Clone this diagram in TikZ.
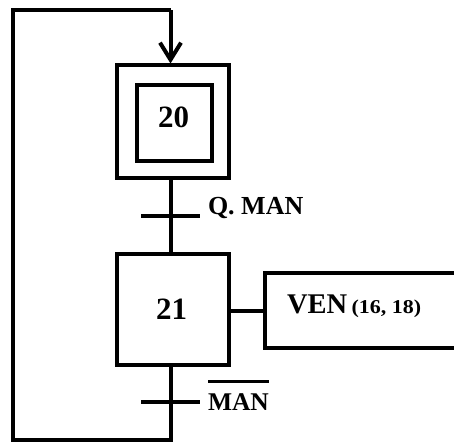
\documentclass[tikz,border=0pt]{standalone}
\usepackage{fontspec}
\setmainfont{Liberation Serif}
\usetikzlibrary{arrows.meta,calc}
\begin{document}
\begin{tikzpicture}[x=1pt,y=1pt,line width=4pt,
  stepbox/.style={draw,inner sep=0pt,outer sep=0pt,minimum width=112.5pt,minimum height=#1},
  lbl/.style={inner sep=0pt,outer sep=0pt,font=\bfseries\fontsize{#1}{#1}\selectfont},
  bar/.style={line width=4pt}]
\useasboundingbox (0,0) rectangle (454,441);
\clip (0,0) rectangle (454,441);
% steps
\node[stepbox=112.8pt] (s20) at (172.75,319.1) {};
\node[draw,inner sep=0pt,outer sep=0pt,minimum width=74.7pt,minimum height=76pt] (s20i) at (174.3,317.7) {};
\node[stepbox=111.3pt] (s21) at (172.75,131.65) {};
\node[draw,inner sep=0pt,outer sep=0pt,minimum width=210pt,minimum height=74.5pt] (act) at (369.5,130.25) {};
% labels
\node[lbl=31,anchor=base] (l20) at (173.5,313.7) {20};
\node[lbl=31,anchor=base] (l21) at (171.5,121.7) {21};
\node[lbl=26,anchor=base west] (q) at (208,226) {Q. MAN};
\node[lbl=28.5,anchor=base west] (ven) at (287,127.5) {VEN\hspace{4.5pt}{\fontsize{19.6}{20}\selectfont\scalebox{1.12}[1]{(16, 18)}}};
\node[lbl=25.5,anchor=base west] (man) at (208,31) {MAN};
\draw[line width=3pt] ($(man.base west)+(0,29)$) -- ($(man.base east)+(0,29)$);
% loop coordinates
\coordinate (tl) at (13,430.7);
\coordinate (tr) at (170.5,430.7);
\coordinate (bl) at (13,1.5);
\coordinate (br) at (170.5,1.5);
\coordinate (t1) at (170.5,225);
\coordinate (t2) at (170.5,39.5);
% links
\draw (s20.south -| tr) -- (s21.north -| tr);
\draw (s21.south -| tr) -- (br) -- (bl) -- (tl) -- (tr);
\draw[-{Straight Barb[length=17pt,width=21pt]}] (tr) -- ($(s20.north -| tr)+(0,2)$);
\draw (s21.east |- act.west) -- (act.west);
% transitions
\draw[bar] ($(t1)+(-29.5,0)$) -- ($(t1)+(29.5,0)$);
\draw[bar] ($(t2)+(-29.5,0)$) -- ($(t2)+(29.5,0)$);
\end{tikzpicture}
\end{document}
